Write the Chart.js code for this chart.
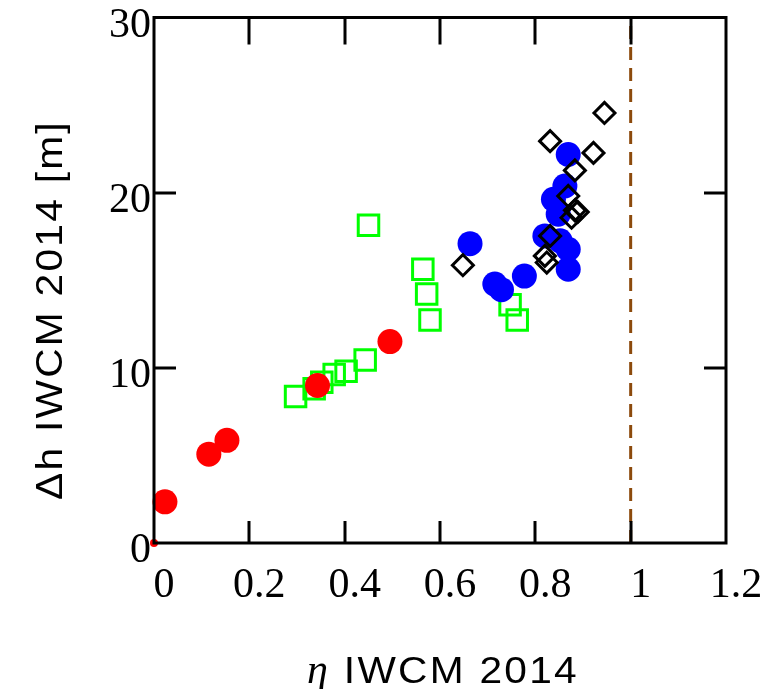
<!DOCTYPE html>
<html>
<head>
<meta charset="utf-8">
<script src="https://cdn.jsdelivr.net/npm/chart.js@4.4.1/dist/chart.umd.min.js"></script>
<style>
html,body{margin:0;padding:0;background:#fff;}
canvas{display:block;}
</style>
</head>
<body>
<canvas id="c" width="769" height="689"></canvas>
<script>
// ---- data ----
const redX = [0, 0.023, 0.115, 0.153, 0.343, 0.495];
const redY = [0, 2.35, 5.07, 5.86, 8.99, 11.5];
const redR = [4, 12.5, 12.5, 12.5, 12.5, 12.5];

const greenX = [0.297, 0.336, 0.352, 0.378, 0.403, 0.443, 0.450, 0.564, 0.572, 0.579, 0.747, 0.762];
const greenY = [8.37, 8.80, 9.18, 9.62, 9.81, 10.45, 18.14, 15.63, 14.21, 12.73, 13.60, 12.73];

const blueX = [0.663, 0.715, 0.729, 0.777, 0.869, 0.862, 0.838, 0.848, 0.820, 0.852, 0.869, 0.869];
const blueY = [17.09, 14.78, 14.46, 15.24, 22.18, 20.38, 19.62, 18.77, 17.53, 17.25, 16.77, 15.63];

const diamondX = [0.648, 0.831, 0.922, 0.945, 0.883, 0.869, 0.883, 0.889, 0.876, 0.831, 0.820, 0.824];
const diamondY = [15.86, 22.94, 22.27, 24.55, 21.27, 19.81, 18.99, 18.90, 18.57, 17.53, 16.39, 16.01];

const limitX = [1, 1];
const limitY = [0, 30];

const xTickLabels = ['0', '0.2', '0.4', '0.6', '0.8', '1', '1.2'];
const yTickLabels = ['0', '10', '20', '30'];
const xTitleSymbol = 'η';
const xTitleText = 'IWCM 2014';
const yTitleText = 'Δh IWCM 2014 [m]';

const pts = (xs, ys) => xs.map((x, i) => ({x: x, y: ys[i]}));

const frameAndTicks = {
  id: 'frameAndTicks',
  afterDatasetsDraw(chart) {
    const {ctx, chartArea: a, scales} = chart;
    ctx.save();
    ctx.strokeStyle = '#000';
    ctx.lineWidth = 3;
    ctx.lineCap = 'butt';
    ctx.beginPath();
    [0.2, 0.4, 0.6, 0.8, 1.0].forEach(v => {
      const px = Math.round(scales.x.getPixelForValue(v));
      ctx.moveTo(px, a.bottom); ctx.lineTo(px, a.bottom - 22);
      ctx.moveTo(px, a.top); ctx.lineTo(px, a.top + 27);
    });
    [10, 20].forEach(v => {
      const py = Math.round(scales.y.getPixelForValue(v));
      ctx.moveTo(a.left, py); ctx.lineTo(a.left + 22, py);
      ctx.moveTo(a.right, py); ctx.lineTo(a.right - 22, py);
    });
    ctx.stroke();
    ctx.strokeRect(a.left, a.top, a.right - a.left, a.bottom - a.top);
    ctx.restore();
  },
  afterDraw(chart) {
    const {ctx} = chart;
    const sans = '36px "Liberation Sans", Arial, sans-serif';
    const spacing = '2px';
    const stretch = 1.13;
    const symFont = 'italic 42px "Liberation Serif", serif';
    // x title
    ctx.save();
    ctx.fillStyle = '#000';
    ctx.font = symFont;
    ctx.letterSpacing = '0px';
    const wSym = ctx.measureText(xTitleSymbol).width;
    ctx.font = sans;
    ctx.letterSpacing = spacing;
    const wTxt = ctx.measureText(xTitleText).width * stretch;
    const gap = 16;
    const total = wSym + gap + wTxt;
    const x0 = 443 - total / 2;
    const base = 683;
    ctx.textBaseline = 'alphabetic';
    ctx.textAlign = 'left';
    ctx.font = symFont;
    ctx.letterSpacing = '0px';
    ctx.fillText(xTitleSymbol, x0, base);
    ctx.translate(x0 + wSym + gap, base);
    ctx.scale(stretch, 1);
    ctx.font = sans;
    ctx.letterSpacing = spacing;
    ctx.fillText(xTitleText, 0, 0);
    ctx.restore();
    // y title
    ctx.save();
    ctx.fillStyle = '#000';
    ctx.font = sans;
    ctx.letterSpacing = spacing;
    ctx.translate(62, 310);
    ctx.rotate(-Math.PI / 2);
    ctx.scale(stretch, 1);
    ctx.textAlign = 'center';
    ctx.textBaseline = 'alphabetic';
    ctx.fillText(yTitleText, 0, 0);
    ctx.restore();
  }
};

new Chart(document.getElementById('c'), {
  type: 'scatter',
  data: {
    datasets: [
      {
        label: 'limit', type: 'line', data: pts(limitX, limitY),
        borderColor: '#8c4a0c', borderWidth: 3, borderDash: [13, 8],
        pointRadius: 0, fill: false, showLine: true, order: 5
      },
      {
        label: 'green', data: pts(greenX, greenY), pointStyle: 'rect',
        pointRadius: 14.5, pointHoverRadius: 14.5, borderWidth: 3, pointBorderWidth: 3,
        borderColor: '#00ff00', backgroundColor: 'rgba(0,0,0,0)', order: 4, clip: false
      },
      {
        label: 'red', data: pts(redX, redY), pointStyle: 'circle',
        pointRadius: redR, pointHoverRadius: redR, borderWidth: 0,
        backgroundColor: '#ff0000', borderColor: '#ff0000', order: 3, clip: false
      },
      {
        label: 'blue', data: pts(blueX, blueY), pointStyle: 'circle',
        pointRadius: 12.5, pointHoverRadius: 12.5, borderWidth: 0,
        backgroundColor: '#0000ff', borderColor: '#0000ff', order: 2, clip: false
      },
      {
        label: 'diamond', data: pts(diamondX, diamondY), pointStyle: 'rectRot',
        pointRadius: 10.5, pointHoverRadius: 10.5, borderWidth: 3, pointBorderWidth: 3,
        borderColor: '#000000', backgroundColor: 'rgba(0,0,0,0)', order: 1, clip: false
      }
    ]
  },
  options: {
    responsive: false,
    animation: false,
    events: [],
    layout: {padding: {left: 0, right: 43, top: 17, bottom: 0}},
    plugins: {legend: {display: false}, tooltip: {enabled: false}},
    scales: {
      x: {
        type: 'linear', min: 0, max: 1.2,
        grid: {display: false, drawTicks: false},
        border: {display: false},
        ticks: {
          stepSize: 0.2, autoSkip: false, maxRotation: 0, padding: 18, labelOffset: 10,
          color: '#000', font: {family: '"Liberation Serif", "Times New Roman", serif', size: 42},
          callback: (v, i) => xTickLabels[i]
        },
        afterFit(s) { s.height = 146; s.paddingLeft = 0; s.paddingRight = 0; }
      },
      y: {
        type: 'linear', min: 0, max: 30,
        grid: {display: false, drawTicks: false},
        border: {display: false},
        ticks: {
          stepSize: 10, autoSkip: false, padding: 3, labelOffset: 8,
          color: '#000', font: {family: '"Liberation Serif", "Times New Roman", serif', size: 42},
          callback: (v, i) => yTickLabels[i]
        },
        afterFit(s) { s.width = 154; s.paddingTop = 0; s.paddingBottom = 0; }
      }
    }
  },
  plugins: [frameAndTicks]
});
</script>
</body>
</html>
